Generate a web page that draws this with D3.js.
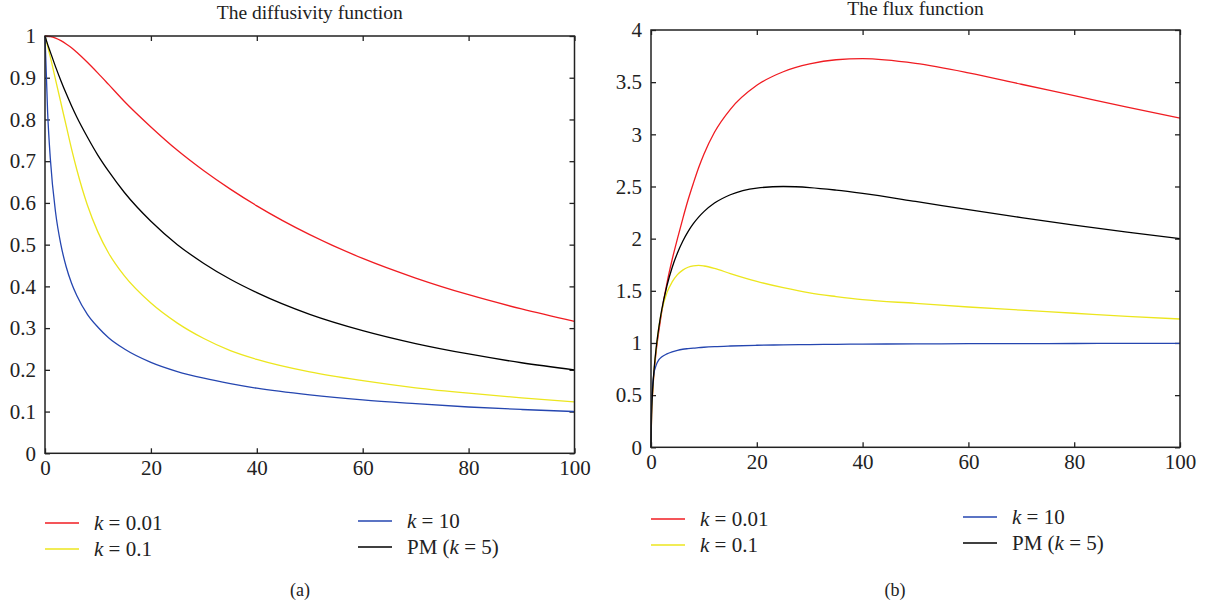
<!DOCTYPE html>
<html>
<head>
<meta charset="utf-8">
<script src="https://cdn.jsdelivr.net/npm/d3@7"></script>
<style>
  body { margin: 0; background: #fff; }
  svg text { font-family: "Liberation Serif", "DejaVu Serif", serif; fill: #222; }
</style>
</head>
<body>
<svg id="chart" width="1205" height="607"></svg>
<script>
// sample points on the horizontal axis
const xsA = [0, 0.5, 1, 2, 3, 4, 5, 6, 8, 10, 12, 15, 20, 25, 30, 35, 40, 50, 60, 70, 80, 90, 100];
const xsB = [0, 0.1, 0.25, 0.5, 1, 1.5, 2, 3, 4, 5, 6, 7, 8, 9, 10, 12, 15, 20, 25, 30, 35, 40, 50, 60, 70, 80, 90, 100];

// (a) diffusivity
const diffK001 = [1, 0.9997, 0.9988, 0.995, 0.989, 0.981, 0.972, 0.961, 0.937, 0.911, 0.884, 0.843, 0.782, 0.726, 0.677, 0.633, 0.593, 0.524, 0.467, 0.42, 0.38, 0.346, 0.316];
const diffK01 = [1, 0.975, 0.95, 0.895, 0.84, 0.785, 0.73, 0.68, 0.595, 0.53, 0.48, 0.425, 0.36, 0.312, 0.275, 0.246, 0.225, 0.195, 0.174, 0.157, 0.144, 0.133, 0.123];
const diffK10 = [1, 0.816, 0.707, 0.577, 0.5, 0.447, 0.408, 0.378, 0.333, 0.302, 0.277, 0.25, 0.218, 0.196, 0.18, 0.167, 0.156, 0.14, 0.128, 0.119, 0.111, 0.105, 0.1];
const diffPM = [1, 0.98, 0.962, 0.926, 0.893, 0.862, 0.833, 0.806, 0.758, 0.714, 0.676, 0.625, 0.556, 0.5, 0.455, 0.417, 0.385, 0.333, 0.294, 0.263, 0.238, 0.217, 0.2];

// (b) flux
const fluxK001 = [0, 0.3, 0.47, 0.67, 0.93, 1.12, 1.29, 1.57, 1.8, 2.0, 2.19, 2.37, 2.53, 2.68, 2.81, 3.02, 3.24, 3.47, 3.6, 3.675, 3.715, 3.725, 3.68, 3.59, 3.48, 3.37, 3.26, 3.155];
const fluxK01 = [0, 0.3, 0.48, 0.68, 0.95, 1.16, 1.3, 1.48, 1.585, 1.655, 1.698, 1.726, 1.74, 1.743, 1.738, 1.715, 1.665, 1.59, 1.53, 1.48, 1.445, 1.415, 1.38, 1.345, 1.315, 1.285, 1.255, 1.23];
const fluxK10 = [0, 0.38, 0.55, 0.69, 0.79, 0.84, 0.865, 0.895, 0.915, 0.93, 0.94, 0.946, 0.951, 0.955, 0.959, 0.965, 0.971, 0.978, 0.982, 0.985, 0.987, 0.989, 0.991, 0.993, 0.994, 0.995, 0.996, 0.997];
const fluxPM = [0, 0.315, 0.495, 0.693, 0.962, 1.155, 1.309, 1.546, 1.724, 1.863, 1.975, 2.067, 2.143, 2.206, 2.259, 2.341, 2.421, 2.485, 2.5, 2.49, 2.465, 2.433, 2.357, 2.278, 2.202, 2.13, 2.062, 2];

const seriesNames = ["k = 0.01", "k = 0.1", "k = 10", "PM (k = 5)"];
const colors = ["#f01c22", "#ece61e", "#2546b0", "#000000"];
const xTicks = [0, 20, 40, 60, 80, 100];
const yTicksA = [0, 0.1, 0.2, 0.3, 0.4, 0.5, 0.6, 0.7, 0.8, 0.9, 1];
const yTicksB = [0, 0.5, 1, 1.5, 2, 2.5, 3, 3.5, 4];

const FONT = '"Liberation Serif", "DejaVu Serif", serif';
const svg = d3.select("#chart");

function drawPanel(p) {
  const x = d3.scaleLinear().domain([0, 100]).range([p.left, p.right]);
  const y = d3.scaleLinear().domain(p.yDomain).range([p.bottom, p.top]);
  const g = svg.append("g");

  const fmt = d => String(d);
  const styleAxis = sel => {
    sel.attr("font-family", FONT).attr("font-size", 21);
    sel.select(".domain").remove();
    sel.selectAll(".tick line").attr("stroke", "#222").attr("stroke-width", 1.3);
    sel.selectAll(".tick text").attr("fill", "#1a1a1a");
  };

  g.append("g").attr("transform", `translate(0,${p.bottom})`)
    .call(d3.axisBottom(x).tickValues(xTicks).tickSize(-5).tickPadding(7).tickFormat(fmt))
    .call(styleAxis);
  g.append("g").attr("transform", `translate(0,${p.top})`)
    .call(d3.axisTop(x).tickValues(xTicks).tickSize(-5).tickFormat(""))
    .call(styleAxis);
  g.append("g").attr("transform", `translate(${p.left},0)`)
    .call(d3.axisLeft(y).tickValues(p.yTicks).tickSize(-5).tickPadding(9).tickFormat(fmt))
    .call(styleAxis);
  g.append("g").attr("transform", `translate(${p.right},0)`)
    .call(d3.axisRight(y).tickValues(p.yTicks).tickSize(-5).tickFormat(""))
    .call(styleAxis);

  const line = d3.line()
    .x(d => x(d[0]))
    .y(d => y(d[1]))
    .curve(d3.curveMonotoneX);

  p.series.forEach((vals, i) => {
    g.append("path")
      .datum(p.xs.map((v, j) => [v, vals[j]]))
      .attr("fill", "none")
      .attr("stroke", colors[i])
      .attr("stroke-width", 1.3)
      .attr("d", line);
  });

  g.append("rect")
    .attr("x", p.left).attr("y", p.top)
    .attr("width", p.right - p.left).attr("height", p.bottom - p.top)
    .attr("fill", "none").attr("stroke", "#222").attr("stroke-width", 1.5);

  g.append("text")
    .attr("x", (p.left + p.right) / 2).attr("y", p.titleY)
    .attr("text-anchor", "middle").attr("font-size", 19.5)
    .text(p.title);

  // legend, two columns
  const legendPos = [[0, 0], [0, 1], [1, 0], [1, 1]];
  seriesNames.forEach((name, i) => {
    const [col, row] = legendPos[i];
    const lx = p.legendX[col];
    const ly = p.legendY + row * 26 + (col === 1 ? -2 : 0);
    g.append("line")
      .attr("x1", lx).attr("x2", lx + 34)
      .attr("y1", ly).attr("y2", ly)
      .attr("stroke", colors[i]).attr("stroke-width", 1.3);
    const t = g.append("text")
      .attr("x", lx + 49).attr("y", ly + 7)
      .attr("font-size", 21)
      .attr("xml:space", "preserve");
    name.split(/(k)/).forEach(part => {
      if (!part) return;
      t.append("tspan").attr("font-style", part === "k" ? "italic" : null).text(part);
    });
  });

  g.append("text")
    .attr("x", p.labelX).attr("y", 596)
    .attr("text-anchor", "middle").attr("font-size", 18)
    .text(p.label);
}

drawPanel({
  left: 45, right: 574.5, top: 36, bottom: 453.3,
  yDomain: [0, 1], yTicks: yTicksA, xs: xsA,
  series: [diffK001, diffK01, diffK10, diffPM],
  title: "The diffusivity function", titleY: 19,
  legendX: [45, 358], legendY: 523, label: "(a)", labelX: 300
});

drawPanel({
  left: 651, right: 1180, top: 30, bottom: 447.3,
  yDomain: [0, 4], yTicks: yTicksB, xs: xsB,
  series: [fluxK001, fluxK01, fluxK10, fluxPM],
  title: "The flux function", titleY: 15,
  legendX: [651, 963], legendY: 519, label: "(b)", labelX: 895
});
</script>
</body>
</html>
